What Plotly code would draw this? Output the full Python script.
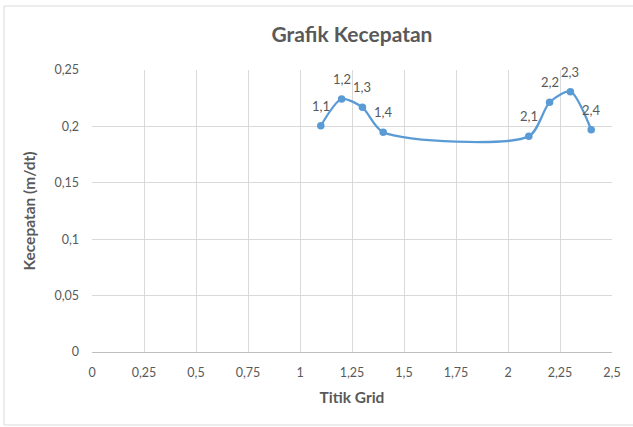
import plotly.graph_objects as go

# Data
x_vals = [1.1, 1.2, 1.3, 1.4, 2.1, 2.2, 2.3, 2.4]
y_vals = [0.2006, 0.2243, 0.2169, 0.1948, 0.1912, 0.2214, 0.2308, 0.1970]
point_labels = ["1,1", "1,2", "1,3", "1,4", "2,1", "2,2", "2,3", "2,4"]
x_ticks = [0, 0.25, 0.5, 0.75, 1, 1.25, 1.5, 1.75, 2, 2.25, 2.5]
y_ticks = [0, 0.05, 0.1, 0.15, 0.2, 0.25]

FONT = "Lato"
GREY = "#595959"
BLUE = "#5B9BD5"

fig = go.Figure()
fig.add_trace(go.Scatter(
    x=x_vals, y=y_vals,
    mode="lines+markers",
    line=dict(color=BLUE, width=2.25, shape="spline", smoothing=0.75),
    marker=dict(color=BLUE, size=7.5),
    cliponaxis=False,
    hoverinfo="x+y",
))
for xv, yv, lab in zip(x_vals, y_vals, point_labels):
    fig.add_annotation(x=xv, y=yv, text=lab, showarrow=False,
                       yshift=20, font=dict(family=FONT, size=13, color=GREY))

fig.update_layout(
    width=633, height=427,
    margin=dict(l=92, r=21, t=70, b=75),
    paper_bgcolor="white", plot_bgcolor="white",
    separators=",.",
    showlegend=False,
    title=dict(text="Grafik Kecepatan", x=0.5, xref="paper", xanchor="center",
               y=1 - 35 / 427, yanchor="middle",
               font=dict(family=FONT, size=21, color=GREY, weight=700)),
    font=dict(family=FONT, color=GREY, size=12),
)
fig.update_xaxes(
    range=[0, 2.5], tickvals=x_ticks, automargin=False,
    showgrid=True, gridcolor="#D9D9D9", gridwidth=1,
    zeroline=False, showline=True, linecolor="#BFBFBF", linewidth=1,
    ticks="", ticklabelstandoff=9,
    tickfont=dict(family=FONT, size=12.5, color=GREY),
    title=dict(text="Titik Grid", standoff=13,
               font=dict(family=FONT, size=15.5, color=GREY, weight=700)),
)
fig.update_yaxes(
    range=[0, 0.25], tickvals=y_ticks, automargin=False,
    showgrid=True, gridcolor="#D9D9D9", gridwidth=1,
    zeroline=False, showline=False,
    ticks="", ticklabelstandoff=12,
    tickfont=dict(family=FONT, size=12.5, color=GREY),
    title=dict(text="Kecepatan (m/dt)", standoff=14,
               font=dict(family=FONT, size=15.5, color=GREY, weight=700)),
)
# outer chart border
fig.add_shape(type="rect", xref="paper", yref="paper",
              x0=(4 - 92) / 520, x1=(640 - 92) / 520,
              y0=(352 - 425) / 282, y1=(352 - 6) / 282,
              line=dict(color="#D9D9D9", width=1), layer="below")

fig.write_html("out.html", config={"displayModeBar": False},
               post_script="document.body.style.margin='0';")
